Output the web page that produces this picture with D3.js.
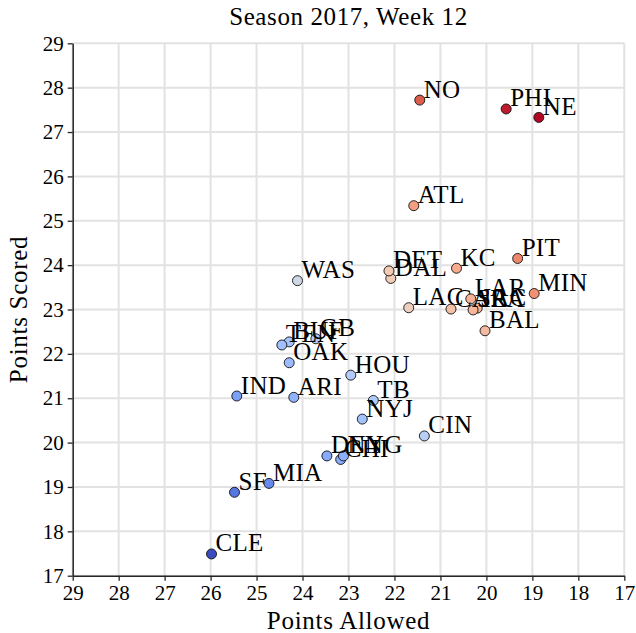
<!DOCTYPE html>
<html>
<head>
<meta charset="utf-8">
<script src="https://cdn.jsdelivr.net/npm/d3@7"></script>
<style>
  html, body { margin: 0; padding: 0; background: #fff; }
  svg text { font-family: "Liberation Serif", "Times New Roman", serif; fill: #000; }
</style>
</head>
<body>
<svg id="chart" width="636" height="633"></svg>
<script>
// ---- data ----
const teams = ["ARI","ATL","BAL","BUF","CAR","CHI","CIN","CLE","DAL","DEN","DET","GB","HOU","IND","JAC","KC",
               "LAC","LAR","MIA","MIN","NE","NO","NYG","NYJ","OAK","PHI","PIT","SEA","SF","TB","TEN","WAS"];
const pointsAllowed = [24.19,21.58,20.03,24.29,20.77,23.17,21.35,25.98,22.08,23.47,22.12,23.71,22.95,25.43,20.20,20.65,
                       21.69,20.34,24.73,18.96,18.86,21.45,23.11,22.70,24.29,19.57,19.32,20.29,25.48,22.46,24.45,24.11];
const pointsScored  = [21.02,25.34,22.52,22.27,23.01,19.62,20.15,17.49,23.70,19.70,23.87,22.34,21.52,21.05,23.03,23.93,
                       23.04,23.24,19.08,23.36,27.33,27.72,19.70,20.53,21.80,27.52,24.15,22.99,18.88,20.95,22.20,23.65];
const xTicks = [29,28,27,26,25,24,23,22,21,20,19,18,17];
const yTicks = [17,18,19,20,21,22,23,24,25,26,27,28,29];
const title = "Season 2017, Week 12";
const xLabel = "Points Allowed";
const yLabel = "Points Scored";

// ---- layout ----
const svg = d3.select("#chart");
const pL = 72.7, pR = 624.3, pT = 43.3, pB = 575.7;
const x = d3.scaleLinear().domain([29, 17]).range([pL, pR]);
const y = d3.scaleLinear().domain([17, 29]).range([pB, pT]);

// coolwarm colormap
const coolwarm = d3.piecewise(d3.interpolateRgb, ["#3b4cc0","#5572df","#7093f3","#8db0fe","#aac7fd","#dddddd",
                                                  "#f2cbb7","#f7a889","#ec8165","#d44e41","#b40426"]);
const data = teams.map((t, i) => ({ team: t, pa: pointsAllowed[i], ps: pointsScored[i], diff: pointsScored[i] - pointsAllowed[i] }));
const color = d3.scaleSequential(coolwarm).domain(d3.extent(data, d => d.diff));

// grid
const grid = svg.append("g");
grid.selectAll("line.gx").data(xTicks).join("line").attr("class", "gx")
  .attr("x1", d => x(d)).attr("x2", d => x(d)).attr("y1", pT).attr("y2", pB)
  .attr("stroke", "#e2e2e2").attr("stroke-width", 2);
grid.selectAll("line.gy").data(yTicks).join("line").attr("class", "gy")
  .attr("y1", d => y(d)).attr("y2", d => y(d)).attr("x1", pL).attr("x2", pR)
  .attr("stroke", "#e2e2e2").attr("stroke-width", 2);

// axes
const xAxis = svg.append("g").attr("transform", `translate(0,${pB})`)
  .call(d3.axisBottom(x).tickValues(xTicks).tickFormat(d3.format("d")).tickSize(5).tickSizeOuter(0).tickPadding(4));
const yAxis = svg.append("g").attr("transform", `translate(${pL},0)`)
  .call(d3.axisLeft(y).tickValues(yTicks).tickFormat(d3.format("d")).tickSize(5).tickSizeOuter(0).tickPadding(4));
[xAxis, yAxis].forEach(a => {
  a.selectAll("text").attr("font-size", 21).attr("font-family", "Liberation Serif").attr("fill", "#000");
  a.select(".domain").attr("stroke", "#262626").attr("stroke-width", 1.5);
  a.selectAll(".tick line").attr("stroke", "#262626").attr("stroke-width", 1.3);
});

// points
svg.append("g").selectAll("circle").data(data).join("circle")
  .attr("cx", d => x(d.pa)).attr("cy", d => y(d.ps)).attr("r", 5)
  .attr("fill", d => color(d.diff)).attr("stroke", "#111").attr("stroke-width", 0.9);

// labels
svg.append("g").selectAll("text").data(data).join("text")
  .attr("x", d => x(d.pa) + 4).attr("y", d => y(d.ps) - 2.5)
  .attr("font-size", 25).attr("letter-spacing", 0.3).text(d => d.team);

// titles
svg.append("text").attr("x", (pL + pR) / 2).attr("y", 25).attr("text-anchor", "middle")
  .attr("font-size", 25).attr("letter-spacing", 0.6).text(title);
svg.append("text").attr("x", (pL + pR) / 2).attr("y", 629).attr("text-anchor", "middle")
  .attr("font-size", 25).attr("letter-spacing", 0.7).text(xLabel);
svg.append("text").attr("transform", `translate(27,${(pT + pB) / 2}) rotate(-90)`).attr("text-anchor", "middle")
  .attr("font-size", 25).attr("letter-spacing", 0.7).text(yLabel);
</script>
</body>
</html>
